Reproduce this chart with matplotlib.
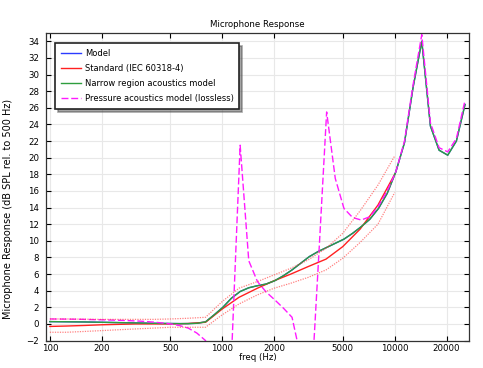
import numpy as np
import matplotlib
matplotlib.use("Agg")
from matplotlib import pyplot as plt

# 1/6-octave frequencies of the simulated models (100 Hz .. 25.6 kHz)
freq_model = [100.0, 112.2, 126.0, 141.4, 158.7, 178.2, 200.0, 224.5, 252.0, 282.8,
              317.5, 356.4, 400.0, 449.0, 504.0, 565.7, 635.0, 712.7, 800.0, 898.0,
              1008.0, 1131.0, 1270.0, 1425.0, 1600.0, 1796.0, 2016.0, 2263.0, 2540.0, 2851.0,
              3200.0, 3592.0, 4032.0, 4525.0, 5080.0, 5702.0, 6400.0, 7184.0, 8063.0, 9051.0,
              10159.0, 11404.0, 12800.0, 14368.0, 16127.0, 18102.0, 20319.0, 22807.0, 25600.0]

narrow_db = [0.28, 0.27, 0.26, 0.25, 0.24, 0.22, 0.2, 0.18, 0.16, 0.14,
             0.12, 0.1, 0.08, 0.06, 0.05, 0.04, 0.04, 0.08, 0.25, 1.1,
             2.0, 3.1, 3.9, 4.35, 4.6, 4.8, 5.2, 5.8, 6.5, 7.3,
             8.1, 8.7, 9.2, 9.7, 10.2, 10.9, 11.7, 12.6, 13.9, 15.7,
             18.3, 21.8, 28.5, 34.0, 23.8, 20.9, 20.3, 22.0, 26.4]

model_db = [0.28, 0.27, 0.26, 0.25, 0.24, 0.22, 0.2, 0.18, 0.16, 0.14,
            0.12, 0.1, 0.08, 0.06, 0.05, 0.04, 0.04, 0.08, 0.25, 1.1,
            2.0, 3.1, 3.9, 4.35, 4.6, 4.8, 5.2, 5.8, 6.5, 7.3,
            8.1, 8.7, 9.2, 9.7, 10.2, 10.9, 11.7, 12.6, 13.9, 15.7,
            18.3, 21.8, 28.5, 34.0, 23.8, 20.9, 20.3, 22.0, 26.4]

pressure_db = [0.6, 0.59, 0.58, 0.57, 0.55, 0.52, 0.5, 0.47, 0.44, 0.4,
               0.36, 0.3, 0.22, 0.12, 0.0, -0.2, -0.5, -1.1, -2.0, -6.0,
               -15.0, -4.0, 21.5, 7.6, 5.1, 3.85, 2.9, 1.9, 0.8, -4.0,
               -12.0, 6.5, 25.5, 17.5, 13.9, 12.8, 12.5, 12.9, 14.2, 16.0,
               18.3, 22.0, 28.8, 34.8, 24.2, 21.2, 20.7, 22.3, 26.9]

# IEC 60318-4 reference curve with tolerance band (1/3 octave)
freq_std = [100, 125, 160, 200, 250, 315, 400, 500, 630, 800, 1000,
            1250, 1600, 2000, 2500, 3150, 4000, 5000, 6300, 8000, 10000]
std_db = [-0.3, -0.25, -0.18, -0.1, -0.05, 0.0, 0.0, 0.0, 0.05, 0.2, 1.8,
          3.2, 4.3, 5.2, 6.0, 6.9, 7.8, 9.3, 11.4, 14.3, 18.0]
std_upper = [0.6, 0.6, 0.57, 0.55, 0.55, 0.55, 0.55, 0.6, 0.68, 0.8, 2.7,
             4.3, 5.1, 5.9, 6.7, 7.7, 9.1, 10.9, 13.6, 16.7, 20.2]
std_lower = [-1.0, -1.0, -0.9, -0.8, -0.7, -0.6, -0.5, -0.4, -0.4, -0.4, 1.1,
             2.4, 3.5, 4.3, 4.9, 5.6, 6.5, 7.9, 9.8, 12.0, 15.8]

xticks = [100, 200, 500, 1000, 2000, 5000, 10000, 20000]
yticks = list(range(-2, 35, 2))

plt.rcParams['font.family'] = 'DejaVu Sans'

fig = plt.figure(figsize=(4.83, 3.68), dpi=100)
ax = fig.add_axes([0.095, 0.0734, 0.876, 0.837])

ax.plot(freq_model, model_db, color='#2b3bff', lw=1.0, label='Model')
ax.plot(freq_std, std_db, color='#ff2020', lw=1.0, label='Standard (IEC 60318-4)')
ax.plot(freq_model, narrow_db, color='#2e9e3e', lw=1.0,
        label='Narrow region acoustics model')
ax.plot(freq_model, pressure_db, color='#ff1aff', lw=1.0, dashes=(5, 2),
        label='Pressure acoustics model (lossless)')
ax.plot(freq_std, std_upper, color='#ff4040', lw=0.9, ls=(0, (1, 1)), alpha=0.65)
ax.plot(freq_std, std_lower, color='#ff4040', lw=0.9, ls=(0, (1, 1)), alpha=0.65)

ax.set_xscale('log')
ax.set_xlim(100 / 10 ** 0.023, 25600 * 10 ** 0.023)
ax.set_ylim(-2.05, 35.0)
ax.set_xticks(xticks)
ax.set_xticklabels([str(t) for t in xticks])
ax.xaxis.set_minor_locator(matplotlib.ticker.NullLocator())
ax.set_yticks(yticks)
ax.tick_params(direction='in', top=True, right=True, length=3.5, width=0.8,
               labelsize=6.2)
ax.tick_params(axis='y', pad=5)
ax.tick_params(axis='x', pad=2.5)
ax.grid(True, color='#e8e8e8', lw=0.8)
ax.set_axisbelow(True)
for s in ax.spines.values():
    s.set_color('#333333')
    s.set_linewidth(0.9)

ax.set_title('Microphone Response', fontsize=6.2, pad=4)
ax.set_xlabel('freq (Hz)', fontsize=6.2, labelpad=0)
ax.set_ylabel('Microphone Response (dB SPL rel. to 500 Hz)', fontsize=7.0)
ax.yaxis.set_label_coords(-0.077, 0.43)

leg = ax.legend(loc='upper left', bbox_to_anchor=(0.021, 0.968), fontsize=6.0,
                frameon=True, fancybox=False, shadow=True, borderpad=0.7,
                handlelength=2.4, handletextpad=0.5, labelspacing=0.75,
                borderaxespad=0)
leg.get_frame().set_edgecolor('#222222')
leg.get_frame().set_linewidth(1.2)

fig.savefig('out.png', dpi=100)
plt.close(fig)
